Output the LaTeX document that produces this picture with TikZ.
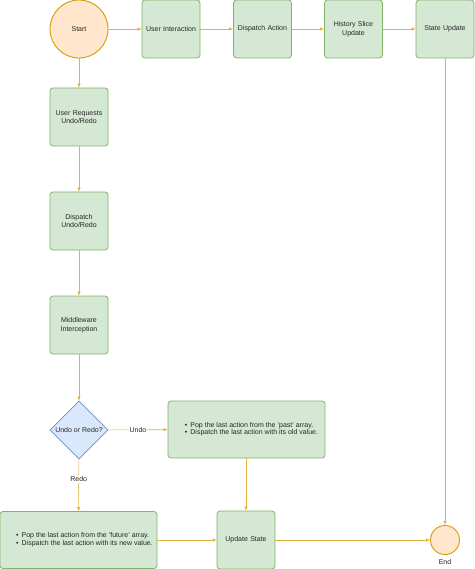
\documentclass[tikz,border=0pt]{standalone}
\usepackage{fontspec}
\setmainfont{Liberation Sans}
\usetikzlibrary{shapes.geometric,arrows.meta}
\definecolor{gfill}{HTML}{D5E8D4}
\definecolor{gline}{HTML}{82B366}
\definecolor{ofill}{HTML}{FFE6CC}
\definecolor{oline}{HTML}{D79B00}
\definecolor{bfill}{HTML}{DAE8FC}
\definecolor{bline}{HTML}{6C8EBF}
\definecolor{aline}{HTML}{E2B23C}
\begin{document}
\begin{tikzpicture}[x=1pt,y=-1pt,
  every node/.style={font=\fontsize{7}{8.5}\selectfont, text=black!85},
  gbox/.style={draw=gline, fill=gfill, rounded corners=3pt, line width=0.8pt, minimum width=58pt, minimum height=58pt, align=center, inner sep=1pt, text width=54pt},
  wbox/.style={draw=gline, fill=gfill, rounded corners=3pt, line width=0.8pt, minimum width=157pt, minimum height=57pt, inner sep=1pt},
  circ/.style={draw=oline, fill=ofill, circle, line width=0.9pt, inner sep=0pt},
  dia/.style={draw=bline, fill=bfill, diamond, line width=0.8pt, minimum width=58pt, minimum height=58pt, inner sep=0pt, aspect=1},
  arr/.style={draw=aline, line width=0.6pt, -{Latex[length=4pt,width=3.5pt]}},
  lbl/.style={fill=white, inner sep=1pt}]
\useasboundingbox (0,0) rectangle (474,569);
\node[circ, minimum size=58pt] (start) at (79,29) {Start};
\node[gbox] (ui) at (171,29) {User Interaction};
\node[gbox] (da) at (262.5,29) {Dispatch Action};
\node[gbox] (hs) at (353.5,29) {History Slice\\Update};
\node[gbox] (su) at (445,29) {State Update};
\node[gbox] (ur) at (79,117) {User Requests\\Undo/Redo};
\node[gbox] (du) at (79,221) {Dispatch\\Undo/Redo};
\node[gbox] (mi) at (79,325) {Middleware\\Interception};
\node[dia] (dec) at (79,430) {Undo or Redo?};
\node[wbox] (undo) at (246.5,429.5) {\hspace*{10pt}%
  \begin{tabular}{@{}l@{\hspace{3pt}}l@{}}
  \textbullet & Pop the last action from the 'past' array.\\[-1pt]
  \textbullet & Dispatch the last action with its old value.
  \end{tabular}};
\node[wbox] (redo) at (78.5,540) {\hspace*{12pt}%
  \begin{tabular}{@{}l@{\hspace{3pt}}l@{}}
  \textbullet & Pop the last action from the 'future' array.\\[-1pt]
  \textbullet & Dispatch the last action with its new value.
  \end{tabular}};
\node[gbox] (us) at (246,540) {Update State};
\node[circ, minimum size=29pt] (end) at (445,540) {};
\node (endl) at (445,562) {End};
\draw[arr] (start) -- (ui);
\draw[arr] (ui) -- (da);
\draw[arr] (da) -- (hs);
\draw[arr] (hs) -- (su);
\draw[arr] (start) -- (ur);
\draw[arr] (ur) -- (du);
\draw[arr] (du) -- (mi);
\draw[arr] (mi) -- (dec);
\draw[arr] (dec) -- node[lbl, pos=0.5] {Undo} (undo);
\draw[arr] (dec) -- node[lbl, pos=0.38] {Redo} (redo);
\draw[arr] (undo.south -| us) -- (us);
\draw[arr] (redo) -- (us);
\draw[arr] (us) -- (end);
\draw[arr] (su) -- (end);
\end{tikzpicture}
\end{document}
